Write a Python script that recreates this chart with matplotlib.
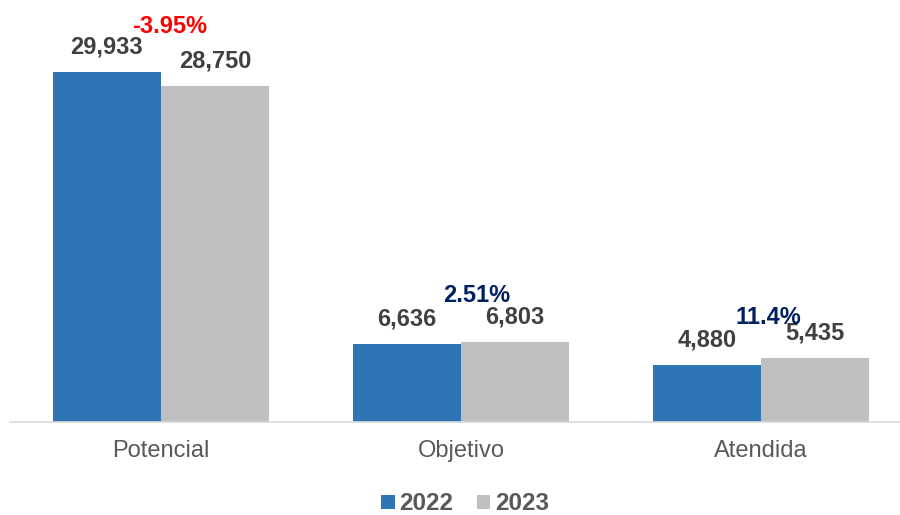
import matplotlib.pyplot as plt
import numpy as np

plt.rcParams['font.family'] = ['Liberation Sans', 'DejaVu Sans']

# Datos
categorias = ['Potencial', 'Objetivo', 'Atendida']
anios = ['2022', '2023']
valores_2022 = [29933, 6636, 4880]
valores_2023 = [28750, 6803, 5435]
variacion = ['-3.95%', '2.51%', '11.4%']

azul = '#2E75B6'
gris = '#BFBFBF'
color_var = ['#FF0000', '#002060', '#002060']
# desplazamiento de la etiqueta de variacion (pt) respecto a la barra mas alta
desp_var = [(6.5, 28), (11.5, 29), (5, 24.5)]

fig = plt.figure(figsize=(9, 5.15), dpi=100)
ax = fig.add_axes([10 / 900, 93 / 515, 890 / 900, 422 / 515])

x = np.arange(len(categorias))
ancho = 0.36
b1 = ax.bar(x - ancho / 2, valores_2022, ancho, color=azul, label=anios[0])
b2 = ax.bar(x + ancho / 2, valores_2023, ancho, color=gris, label=anios[1])

for barras in (b1, b2):
    for b in barras:
        ax.annotate(f'{b.get_height():,.0f}',
                    (b.get_x() + b.get_width() / 2, b.get_height()),
                    xytext=(0, 13.5), textcoords='offset points',
                    ha='center', va='baseline', fontsize=17,
                    fontweight='bold', color='#404040')

for i, txt in enumerate(variacion):
    ax.annotate(txt, (x[i], max(valores_2022[i], valores_2023[i])),
                xytext=desp_var[i], textcoords='offset points',
                ha='center', va='baseline', fontsize=17,
                fontweight='bold', color=color_var[i])

ax.set_xlim(-0.503, 2.463)
ax.set_ylim(0, 36090)
ax.set_xticks(x)
ax.set_xticklabels(categorias, fontsize=17, color='#595959')
ax.tick_params(axis='x', length=0, pad=13)
ax.set_yticks([])
for s in ['top', 'right', 'left']:
    ax.spines[s].set_visible(False)
ax.spines['bottom'].set_color('#D9D9D9')
ax.spines['bottom'].set_linewidth(1.2)

leg = fig.legend(loc='center', bbox_to_anchor=(465 / 900, 1 - 504 / 515),
                 ncol=2, frameon=False, handlelength=0.55, handleheight=0.55,
                 handletextpad=0.2, columnspacing=0.95, borderpad=0.1,
                 prop={'size': 17.5, 'weight': 'bold'})
for t in leg.get_texts():
    t.set_color('#595959')

fig.savefig('out.png', dpi=100)
